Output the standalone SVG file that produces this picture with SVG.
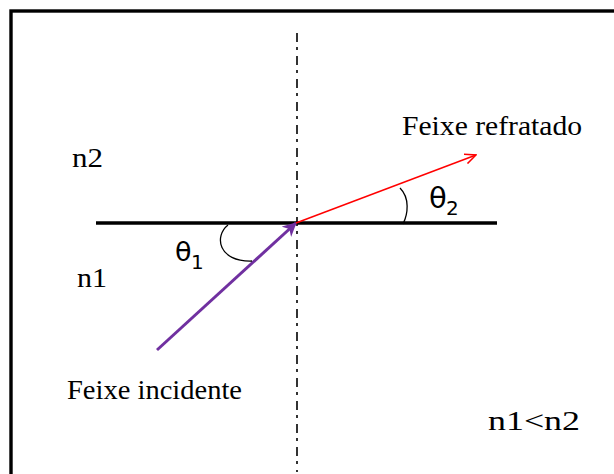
<svg xmlns="http://www.w3.org/2000/svg" width="614" height="474" viewBox="0 0 614 474">
<style>
.t{font-family:"Liberation Serif","Times New Roman",serif;fill:#000}
.g{font-family:"DejaVu Sans","Liberation Sans",sans-serif;fill:#000}
</style>
<defs>
<marker id="ap" viewBox="0 0 14 14" refX="13" refY="7" markerWidth="14" markerHeight="14" markerUnits="userSpaceOnUse" orient="auto">
<path d="M0,0 L14,7 L0,14 L4,7 Z" fill="#7030A0"/>
</marker>
<marker id="ar" viewBox="0 0 12 12" refX="11" refY="6" markerWidth="12" markerHeight="12" markerUnits="userSpaceOnUse" orient="auto">
<path d="M0,1 L11,6 L0,11" fill="none" stroke="#FF0000" stroke-width="1.5"/>
</marker>
</defs>
<rect width="614" height="474" fill="#fff"/>
<rect id="frame" x="11" y="11" width="620" height="480" fill="none" stroke="#000" stroke-width="3.4"/>
<g id="interface">
<line x1="96" y1="223" x2="497" y2="223" stroke="#000" stroke-width="3.5"/>
</g>
<g id="normal">
<line x1="297" y1="33" x2="297" y2="472" stroke="#000" stroke-width="1.6" stroke-dasharray="9 5 3 6"/>
</g>
<g id="connectors">
<line x1="157" y1="350" x2="296" y2="223" stroke="#7030A0" stroke-width="3" marker-end="url(#ap)"/>
<line x1="296" y1="223" x2="476" y2="155" stroke="#FF0000" stroke-width="1.5" marker-end="url(#ar)"/>
<path d="M228,225 C214,236 218,262 252,261" fill="none" stroke="#000" stroke-width="1.3"/>
<path d="M400,188 C410,198 408,214 403,224" fill="none" stroke="#000" stroke-width="1.3"/>
</g>
<g id="labels">
<text class="t" x="402" y="135" font-size="28" textLength="180" lengthAdjust="spacingAndGlyphs">Feixe refratado</text>
<text class="t" x="67" y="399" font-size="28" textLength="175" lengthAdjust="spacingAndGlyphs">Feixe incidente</text>
<text class="t" x="72" y="167" font-size="27" textLength="31" lengthAdjust="spacingAndGlyphs">n2</text>
<text class="t" x="77" y="287" font-size="27" textLength="30" lengthAdjust="spacingAndGlyphs">n1</text>
<text class="t" x="488" y="430" font-size="27" textLength="92" lengthAdjust="spacingAndGlyphs">n1&lt;n2</text>
<text class="g" x="175" y="261" font-size="27">θ</text>
<text class="g" x="191" y="269" font-size="20">1</text>
<text class="g" x="429" y="208" font-size="29">θ</text>
<text class="g" x="446" y="215" font-size="20">2</text>
</g>
</svg>
